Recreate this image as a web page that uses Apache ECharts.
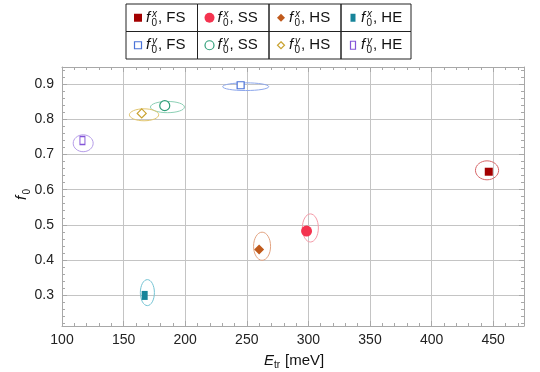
<!DOCTYPE html>
<html>
<head>
<meta charset="utf-8">
<script src="https://cdn.jsdelivr.net/npm/echarts@6/dist/echarts.min.js"></script>
<style>html,body{margin:0;padding:0;background:#fff}#c{width:540px;height:372px}</style>
</head>
<body>
<div id="c"></div>
<script>
// ---- data ----
const groups = ['FS', 'SS', 'HS', 'HE'];
// f0^x points
const fxE = [446.4, 298.5, 260.0, 167.1];
const fxF = [0.651, 0.482, 0.430, 0.299];
// f0^y points
const fyE = [245.0, 183.4, 164.7, 116.6];
const fyF = [0.897, 0.839, 0.817, 0.740];
// uncertainty contours (center E, center f, half-width E, half-height f)
const ellXE = [445.0, 301.6, 262.4, 169.3];
const ellXF = [0.655, 0.491, 0.439, 0.307];
const ellXrE = [9.4, 6.5, 6.9, 5.7];
const ellXrF = [0.027, 0.040, 0.040, 0.037];
const ellYE = [249.1, 185.6, 166.6, 117.2];
const ellYF = [0.893, 0.835, 0.813, 0.732];
const ellYrE = [18.7, 13.8, 11.9, 8.1];
const ellYrF = [0.011, 0.016, 0.017, 0.024];
// axis ticks
const xTicks = [100, 150, 200, 250, 300, 350, 400, 450];
const yTicks = [0.3, 0.4, 0.5, 0.6, 0.7, 0.8, 0.9];

// ---- styles ----
const FONT = "'Liberation Sans', Arial, sans-serif";
const xColors = ['#a30000', '#f4334f', '#c05a1c', '#17849a'];
const xEllColors = ['#d76668', '#f59aa8', '#e3a482', '#74c4d4'];
const yColors = ['#4a72d8', '#2e9e78', '#c9a230', '#8455d8'];
const yEllColors = ['#8ea8ec', '#8cd0b5', '#e2c670', '#b59ce8'];
const xSymbols = ['rect', 'circle', 'diamond', 'rect'];
const xSizes = [[8, 8], [11, 11], [10, 10], [6, 9]];
const ySymbols = ['rect', 'circle', 'diamond', 'rect'];
const ySizes = [[7, 7], [10, 10], [9, 9], [5, 8]];

const chart = echarts.init(document.getElementById('c'), null, {renderer: 'canvas'});

function ellipseSeries(E, F, rE, rF, color, name) {
  return {
    type: 'custom',
    name: name,
    xAxisIndex: 0, yAxisIndex: 0,
    silent: true,
    z: 2,
    encode: {x: 0, y: 1},
    data: [[E, F, rE, rF]],
    renderItem: function (params, api) {
      const c = api.coord([api.value(0), api.value(1)]);
      const s = api.size([api.value(2), api.value(3)]);
      return {
        type: 'ellipse',
        shape: {cx: c[0], cy: c[1], rx: s[0], ry: s[1]},
        style: {fill: 'none', stroke: color, lineWidth: 1}
      };
    }
  };
}

const series = [];
groups.forEach((g, i) => {
  series.push(ellipseSeries(ellXE[i], ellXF[i], ellXrE[i], ellXrF[i], xEllColors[i], 'ex' + g));
  series.push(ellipseSeries(ellYE[i], ellYF[i], ellYrE[i], ellYrF[i], yEllColors[i], 'ey' + g));
});
groups.forEach((g, i) => {
  series.push({
    type: 'scatter', name: 'fx ' + g, z: 5,
    symbol: xSymbols[i], symbolSize: xSizes[i],
    itemStyle: {color: xColors[i], opacity: 1},
    data: [[fxE[i], fxF[i]]]
  });
  series.push({
    type: 'scatter', name: 'fy ' + g, z: 5,
    symbol: ySymbols[i], symbolSize: ySizes[i],
    itemStyle: {color: '#fff', borderColor: yColors[i], borderWidth: 1.2, opacity: 1},
    data: [[fyE[i], fyF[i]]]
  });
});

// ---- legend table as graphics ----
const graphics = [];
const colLeft = [126, 197.5, 269, 341];
const colW = [71.5, 71.5, 72, 70];
const rowTop = [4, 31.5];
const rowH = 27.5;
function markerGraphic(sym, cx, cy, size, fill, stroke) {
  const st = fill ? {fill: fill} : {fill: '#fff', stroke: stroke, lineWidth: 1.2};
  if (sym === 'rect') {
    return {type: 'rect', shape: {x: cx - size[0] / 2, y: cy - size[1] / 2, width: size[0], height: size[1]}, style: st};
  } else if (sym === 'circle') {
    return {type: 'circle', shape: {cx: cx, cy: cy, r: size[0] / 2}, style: st};
  } else {
    const w = size[0] / 2, h = size[1] / 2;
    return {type: 'polygon', shape: {points: [[cx, cy - h], [cx + w, cy], [cx, cy + h], [cx - w, cy]]}, style: st};
  }
}
for (let r = 0; r < 2; r++) {
  for (let c = 0; c < 4; c++) {
    const L = colLeft[c], T = rowTop[r];
    graphics.push({type: 'rect', shape: {x: L, y: T, width: colW[c], height: rowH},
      style: {fill: 'none', stroke: '#222', lineWidth: 1}});
    const cy = T + rowH / 2;
    if (r === 0) graphics.push(markerGraphic(xSymbols[c], L + 12, cy, c === 1 ? [10, 10] : (c === 3 ? [5, 8] : [8, 8]), xColors[c], null));
    else graphics.push(markerGraphic(ySymbols[c], L + 12, cy, c === 1 ? [9, 9] : (c === 3 ? [5, 8] : [7, 7]), null, yColors[c]));
    graphics.push({type: 'text', x: L + 20, y: cy, style: {text: 'f', font: 'italic 15px ' + FONT, fill: '#111', verticalAlign: 'middle', align: 'left'}});
    graphics.push({type: 'text', x: L + 26, y: cy - 4, style: {text: r === 0 ? 'x' : 'y', font: 'italic 10px ' + FONT, fill: '#111', verticalAlign: 'middle', align: 'left'}});
    graphics.push({type: 'text', x: L + 25.5, y: cy + 5, style: {text: '0', font: '10px ' + FONT, fill: '#111', verticalAlign: 'middle', align: 'left'}});
    graphics.push({type: 'text', x: L + 32, y: cy, style: {text: ', ' + groups[c], font: '15px ' + FONT, fill: '#111', verticalAlign: 'middle', align: 'left'}});
  }
}
// axis titles
graphics.push({type: 'text', x: 264, y: 361, style: {text: 'E', font: 'italic 15px ' + FONT, fill: '#111', verticalAlign: 'middle'}});
graphics.push({type: 'text', x: 274, y: 365, style: {text: 'tr', font: '10px ' + FONT, fill: '#111', verticalAlign: 'middle'}});
graphics.push({type: 'text', x: 285, y: 361, style: {text: '[meV]', font: '15px ' + FONT, fill: '#111', verticalAlign: 'middle'}});
graphics.push({type: 'group', x: 22, y: 195, rotation: Math.PI / 2, children: [
  {type: 'text', x: -5, y: 0, style: {text: 'f', font: 'italic 15px ' + FONT, fill: '#111', verticalAlign: 'middle'}},
  {type: 'text', x: 0.5, y: 5, style: {text: '0', font: '10px ' + FONT, fill: '#111', verticalAlign: 'middle'}}
]});

const axisLineStyle = {color: '#a8a8a8', width: 1};
const gridLine = {show: true, lineStyle: {color: '#c4c4c4', width: 1}};

const option = {
  animation: false,
  backgroundColor: '#fff',
  grid: {left: 62, right: 16, top: 67, bottom: 46, containLabel: false},
  xAxis: [{
    type: 'value', min: 100, max: 475, interval: 50,
    axisLine: {show: true, lineStyle: axisLineStyle},
    axisTick: {show: true, inside: true, length: 5, lineStyle: axisLineStyle},
    minorTick: {show: true, splitNumber: 5, length: 3, lineStyle: axisLineStyle},
    axisLabel: {color: '#222', fontSize: 14, fontFamily: FONT, margin: 7, customValues: xTicks,
      formatter: v => (xTicks.indexOf(v) >= 0 ? String(v) : '')},
    splitLine: gridLine
  }, {
    type: 'value', min: 100, max: 475, interval: 50, position: 'top',
    axisLine: {show: true, lineStyle: axisLineStyle},
    axisTick: {show: true, inside: true, length: 5, lineStyle: axisLineStyle},
    minorTick: {show: true, splitNumber: 5, length: 3, lineStyle: axisLineStyle},
    axisLabel: {show: false}, splitLine: {show: false}
  }],
  yAxis: [{
    type: 'value', min: 0.212, max: 0.949, splitNumber: 7,
    axisLine: {show: true, lineStyle: axisLineStyle},
    axisTick: {show: true, inside: true, length: 5, lineStyle: axisLineStyle, customValues: yTicks},
    minorTick: {show: true, splitNumber: 5, length: 3, lineStyle: axisLineStyle},
    axisLabel: {color: '#222', fontSize: 14, fontFamily: FONT, margin: 8, customValues: yTicks,
      formatter: v => v.toFixed(1)},
    splitLine: gridLine
  }, {
    type: 'value', min: 0.212, max: 0.949, splitNumber: 7, position: 'right',
    axisLine: {show: true, lineStyle: axisLineStyle},
    axisTick: {show: true, inside: true, length: 5, lineStyle: axisLineStyle, customValues: yTicks},
    minorTick: {show: true, splitNumber: 5, length: 3, lineStyle: axisLineStyle},
    axisLabel: {show: false}, splitLine: {show: false}
  }],
  graphic: graphics,
  series: series
};
chart.setOption(option);
</script>
</body>
</html>
